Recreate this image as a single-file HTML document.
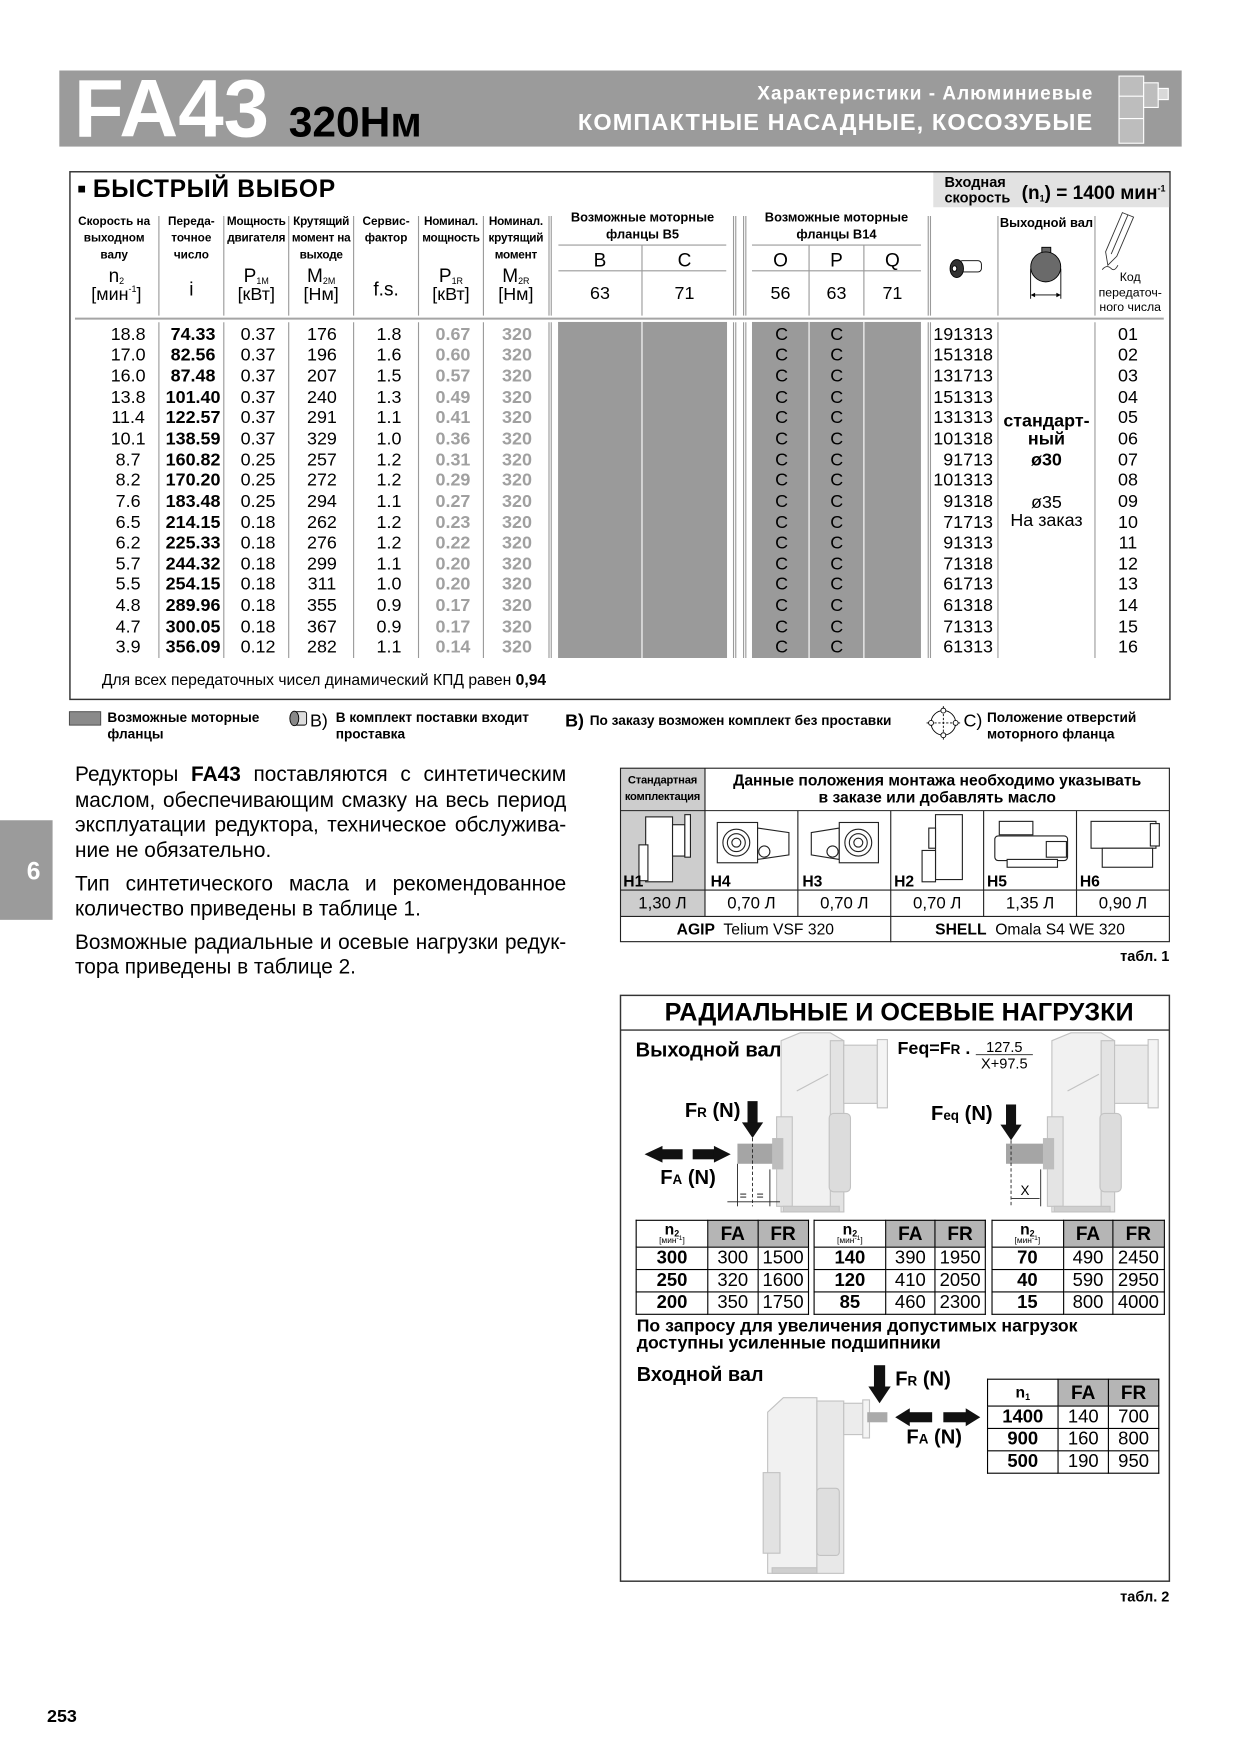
<!DOCTYPE html>
<html><head><meta charset="utf-8">
<style>
html,body{margin:0;padding:0;background:#fff;}
body{width:1241px;height:1754px;overflow:hidden;position:relative;}
#p{position:absolute;left:0;top:0;width:1109px;height:1568px;transform:scale(1.11903);transform-origin:0 0;font-family:"Liberation Sans",Arial,sans-serif;color:#000;}
.t{position:absolute;white-space:nowrap;line-height:1;}
.b{font-weight:bold;}
.c{text-align:center;}
.r{text-align:right;}
svg.bg{position:absolute;left:0;top:0;}
.col{position:absolute;text-align:center;font-size:16px;line-height:18.65px;top:290.6px;white-space:nowrap;}
.lab{position:absolute;text-align:center;font-size:10.5px;font-weight:bold;line-height:15px;top:190.5px;white-space:nowrap;}
.sy{position:absolute;text-align:center;white-space:nowrap;line-height:1;}
sub.s{font-size:8px;vertical-align:-2px;line-height:0;}
sup.s{font-size:8px;vertical-align:7px;line-height:0;}
.pl{position:absolute;left:67px;width:439px;font-size:18.6px;line-height:1;white-space:nowrap;text-align:justify;text-align-last:justify;}
.pl.e{text-align-last:left;}
.lt{position:absolute;border-collapse:collapse;table-layout:fixed;border:1.5px solid #000;}
.lt td{border:1px solid #000;padding:0;text-align:center;font-size:16.5px;height:19px;line-height:1;}
.lt tr.h td{height:23px;}
.lt td.g{background:#b5b5b5;font-weight:bold;font-size:17px;}
.lt td.bb{font-weight:bold;}
.lt .n{font-size:14px;font-weight:bold;line-height:13px;}
.lt .u{font-size:7.5px;line-height:8px;}
.lt .u sup{font-size:6px;vertical-align:3px;line-height:0;}
.lt .n sub{font-size:8px;vertical-align:-2px;line-height:0;}
.f{font-weight:bold;font-size:18px;}
.f small{font-size:12px;}
.lg{font-size:12.2px;line-height:15px;font-weight:bold;}
</style></head><body><div id="p">
<svg class="bg" width="1109" height="1568" viewBox="0 0 1109 1568">
<rect x="53" y="63" width="1003" height="68" fill="#9b9b9b"/>
<g stroke="#fff" stroke-width="1" fill="#bdbdbd">
<rect x="1000" y="68" width="22" height="60"/>
<rect x="1022" y="74" width="13" height="22"/>
<rect x="1035" y="79" width="9" height="10" fill="#d8d8d8"/>
<line x1="1000" y1="86" x2="1022" y2="86"/>
<line x1="1000" y1="106" x2="1022" y2="106"/>
</g>
<rect x="0" y="733" width="47" height="89" fill="#9b9b9b"/>
<rect x="62.5" y="153.5" width="983" height="471.5" fill="none" stroke="#333" stroke-width="1.3"/>
<rect x="834" y="154.2" width="210.8" height="31" fill="#e2e2e2"/>
<rect x="70" y="166" width="6" height="6" fill="#000"/>
<rect x="498.7" y="287.7" width="151" height="300.3" fill="#9a9a9a"/>
<rect x="672" y="287.7" width="151" height="300.3" fill="#9a9a9a"/>
<g stroke="#fff" stroke-width="1">
<line x1="573.7" y1="287.7" x2="573.7" y2="588"/>
<line x1="723" y1="287.7" x2="723" y2="588"/>
<line x1="772" y1="287.7" x2="772" y2="588"/>
</g>
<g stroke="#9a9a9a" stroke-width="1" fill="none">
<path d="M142 193V282M200 193V282M258 193V282M316 193V282M374 193V282M432 193V282M490.6 193V282M492.6 193V282M655.5 193V282M657.5 193V282M664.5 193V282M666.5 193V282M829.5 193V282M831.5 193V282M891.8 193V282M978.5 193V282"/>
<path d="M142 288V588M200 288V588M258 288V588M316 288V588M374 288V588M432 288V588M490.6 288V588M492.6 288V588M655.5 288V588M657.5 288V588M664.5 288V588M666.5 288V588M829.5 288V588M831.5 288V588M891.8 288V588M978.5 288V588"/>
<path d="M499 219H649M499 242H649M672 219H823M672 242H823M573.7 219V282M723 219V282M772 219V282"/>
</g>
<line x1="67" y1="284.7" x2="1040" y2="284.7" stroke="#a5a5a5" stroke-width="1.8"/>
<g stroke="#000" stroke-width="0.8">
<rect x="857" y="233" width="20" height="10" rx="3" fill="#fff"/>
<ellipse cx="855" cy="240" rx="6" ry="8" fill="#333"/>
<ellipse cx="853" cy="240" rx="2" ry="2.5" fill="#fff"/>
</g>
<rect x="931" y="221" width="8" height="5" fill="#666" stroke="#000" stroke-width="0.8"/>
<circle cx="934.5" cy="238.5" r="13.4" fill="#6a6a6a" stroke="#000" stroke-width="0.8"/>
<g stroke="#000" stroke-width="0.8">
<line x1="921" y1="240" x2="921" y2="267"/>
<line x1="948" y1="240" x2="948" y2="267"/>
<line x1="922" y1="263.6" x2="947" y2="263.6"/>
</g>
<polygon points="921,263.6 925,261.6 925,265.6" fill="#000"/>
<polygon points="948,263.6 944,261.6 944,265.6" fill="#000"/>
<g stroke="#333" stroke-width="0.8" fill="none">
<polygon points="1003,190 1013,194 998,229 990,237 988,225"/>
<line x1="1008" y1="192" x2="993" y2="227"/>
<path d="M985 241 q4 -5 8 -1 q3 3 6 -3"/>
</g>
<rect x="62" y="636" width="28" height="12" fill="#8a8a8a" stroke="#444" stroke-width="0.8"/>
<g stroke="#000" stroke-width="0.8">
<rect x="262" y="636" width="12" height="12" rx="2" fill="#ddd"/>
<ellipse cx="263" cy="642" rx="4" ry="6.5" fill="#888"/>
</g>
<g stroke="#000" stroke-width="0.8" fill="none">
<circle cx="843" cy="646" r="11"/>
<line x1="843" y1="631" x2="843" y2="661" stroke-dasharray="2,1.5"/>
<line x1="828" y1="646" x2="858" y2="646" stroke-dasharray="2,1.5"/>
<circle cx="843" cy="635" r="2.2" fill="#fff"/>
<circle cx="843" cy="657" r="2.2" fill="#fff"/>
<circle cx="832" cy="646" r="2.2" fill="#fff"/>
<circle cx="854" cy="646" r="2.2" fill="#fff"/>
</g>
<rect x="554.5" y="686.5" width="75.5" height="132.5" fill="#cdcdcd"/>
<g stroke="#222" stroke-width="1" fill="none">
<rect x="554.5" y="686.5" width="490.5" height="155"/>
<path d="M554.5 724.4H1045M554.5 795.4H1045M554.5 819H1045M630 686.5V819M713 724.4V819M796 724.4V842M879 724.4V819M962 724.4V819"/>
</g>
<g fill="#fff" stroke="#222" stroke-width="1">
<rect x="577" y="730" width="24" height="58"/>
<rect x="571" y="755" width="8" height="32"/>
<rect x="601" y="737" width="11" height="28"/>
<rect x="612" y="728" width="5" height="38"/>
<rect x="641" y="735" width="36" height="36"/>
<polygon points="677,740 705,744 705,764 677,768"/>
<circle cx="658" cy="753" r="12"/><circle cx="658" cy="753" r="8"/><circle cx="658" cy="753" r="4"/>
<circle cx="683" cy="761" r="5"/>
<polygon points="725,744 750,740 750,768 725,764"/>
<rect x="750" y="735" width="35" height="36"/>
<circle cx="767" cy="753" r="12"/><circle cx="767" cy="753" r="8"/><circle cx="767" cy="753" r="4"/>
<circle cx="744" cy="761" r="5"/>
<rect x="836" y="728" width="24" height="58"/>
<rect x="824" y="760" width="12" height="28"/>
<rect x="830" y="740" width="6" height="18"/>
<rect x="893" y="734" width="30" height="12"/>
<rect x="889" y="747" width="65" height="22" rx="3"/>
<rect x="900" y="768" width="45" height="7"/>
<rect x="935" y="752" width="18" height="14"/>
<rect x="975" y="734" width="58" height="24"/>
<rect x="985" y="758" width="45" height="17"/>
<rect x="1028" y="736" width="8" height="20"/>
</g>
<rect x="554.5" y="889.5" width="490.5" height="523.5" fill="none" stroke="#333" stroke-width="1.3"/>
<line x1="554.5" y1="920.5" x2="1045" y2="920.5" stroke="#333" stroke-width="1.3"/>
<g stroke="#c2c2c2" stroke-width="1">
<polygon points="698,930 715,923 742,923 754,930 754,1083 698,1083" fill="#f1f1f1"/>
<rect x="742" y="930" width="12" height="153" fill="#e3e3e3"/>
<rect x="754" y="934" width="30" height="52" fill="#e9e9e9"/>
<rect x="784" y="929" width="9" height="61" fill="#f4f4f4"/>
<rect x="694" y="998" width="14" height="80" fill="#e4e4e4"/>
<rect x="741" y="995" width="19" height="70" rx="4" fill="#dcdcdc"/>
<rect x="700" y="1078" width="50" height="5" fill="#cfcfcf"/>
<line x1="712" y1="975" x2="740" y2="960"/>
</g>
<rect x="659" y="1022" width="35" height="18" fill="#a5a5a5"/>
<rect x="690" y="1017" width="10" height="28" fill="#bdbdbd"/>
<g stroke="#c2c2c2" stroke-width="1">
<polygon points="940,930 957,923 984,923 996,930 996,1083 940,1083" fill="#f1f1f1"/>
<rect x="984" y="930" width="12" height="153" fill="#e3e3e3"/>
<rect x="996" y="934" width="30" height="52" fill="#e9e9e9"/>
<rect x="1026" y="929" width="9" height="61" fill="#f4f4f4"/>
<rect x="936" y="998" width="14" height="80" fill="#e4e4e4"/>
<rect x="983" y="995" width="19" height="70" rx="4" fill="#dcdcdc"/>
<rect x="942" y="1078" width="50" height="5" fill="#cfcfcf"/>
<line x1="954" y1="975" x2="982" y2="960"/>
</g>
<rect x="899" y="1022" width="37" height="18" fill="#a5a5a5"/>
<rect x="932" y="1017" width="10" height="28" fill="#bdbdbd"/>
<g fill="#111">
<rect x="668" y="984" width="9" height="20"/>
<polygon points="663,1003 682,1003 672.5,1017"/>
<rect x="590" y="1027" width="20" height="9"/>
<polygon points="576,1031.5 592,1024 592,1039"/>
<rect x="619" y="1027" width="21" height="9"/>
<polygon points="653,1031.5 638,1024 638,1039"/>
<rect x="899" y="987" width="9" height="19"/>
<polygon points="894,1005 913,1005 903.5,1019"/>
</g>
<g stroke="#222" stroke-width="0.8" fill="none">
<line x1="672.5" y1="1017" x2="672.5" y2="1078" stroke-dasharray="3,2"/>
<line x1="659" y1="1040" x2="659" y2="1078"/>
<line x1="688" y1="1045" x2="688" y2="1078"/>
<line x1="650" y1="1074" x2="697" y2="1074"/>
<line x1="903.5" y1="1019" x2="903.5" y2="1078" stroke-dasharray="3,2"/>
<line x1="930" y1="1045" x2="930" y2="1078"/>
<line x1="904" y1="1071" x2="929" y2="1071"/>
<line x1="872" y1="942.5" x2="923" y2="942.5"/>
</g>
<g stroke="#c2c2c2" stroke-width="1">
<polygon points="686,1262 700,1249 730,1249 730,1406 686,1406" fill="#f1f1f1"/>
<rect x="730" y="1252" width="24" height="154" fill="#e8e8e8"/>
<rect x="754" y="1254" width="19" height="28" fill="#ececec"/>
<rect x="771" y="1251" width="6" height="34" fill="#f4f4f4"/>
<rect x="682" y="1316" width="15" height="72" fill="#e2e2e2"/>
<rect x="730" y="1330" width="20" height="60" rx="3" fill="#dedede"/>
<rect x="690" y="1401" width="40" height="5" fill="#cfcfcf"/>
</g>
<rect x="775" y="1262" width="18" height="9" fill="#aaa"/>
<g fill="#111">
<rect x="781" y="1220" width="10" height="20"/>
<polygon points="776,1239 796,1239 786,1254"/>
<rect x="811" y="1262" width="22" height="9"/>
<polygon points="800,1266.5 813,1258.5 813,1274.5"/>
<rect x="843" y="1262" width="22" height="9"/>
<polygon points="876,1266.5 863,1258.5 863,1274.5"/>
</g>
</svg>

<div class="t b" style="left:66px;top:61px;font-size:73px;color:#fff;">FA43</div>
<div class="t b" style="left:258px;top:91px;font-size:38px;">320Нм</div>
<div class="t b r" style="left:560px;top:74.5px;width:417px;font-size:17px;color:#fff;letter-spacing:0.9px;">Характеристики - Алюминиевые</div>
<div class="t b r" style="left:460px;top:98.5px;width:517px;font-size:21px;color:#fff;letter-spacing:1px;">КОМПАКТНЫЕ НАСАДНЫЕ, КОСОЗУБЫЕ</div>

<div class="t b" style="left:83px;top:158px;font-size:22px;letter-spacing:0.6px;">БЫСТРЫЙ ВЫБОР</div>
<div class="t b" style="left:844px;top:155.5px;font-size:13px;">Входная</div>
<div class="t b" style="left:844px;top:169.5px;font-size:13px;">скорость</div>
<div class="t b" style="left:913px;top:163.5px;font-size:17px;">(n<sub class="s">1</sub>) = 1400 мин<sup class="s">-1</sup></div>

<div class="lab" style="left:62px;width:80px;">Скорость на<br>выходном<br>валу</div>
<div class="lab" style="left:142px;width:58px;">Переда-<br>точное<br>число</div>
<div class="lab" style="left:200px;width:58px;letter-spacing:-0.2px;">Мощность<br>двигателя</div>
<div class="lab" style="left:258px;width:58px;letter-spacing:-0.2px;">Крутящий<br>момент на<br>выходе</div>
<div class="lab" style="left:316px;width:58px;">Сервис-<br>фактор</div>
<div class="lab" style="left:374px;width:58px;letter-spacing:-0.2px;">Номинал.<br>мощность</div>
<div class="lab" style="left:432px;width:58px;letter-spacing:-0.2px;">Номинал.<br>крутящий<br>момент</div>
<div class="lab" style="left:498.7px;width:151px;font-size:11.5px;top:187.5px;">Возможные моторные<br>фланцы B5</div>
<div class="lab" style="left:672px;width:151px;font-size:11.5px;top:187.5px;">Возможные моторные<br>фланцы B14</div>
<div class="lab" style="left:891.8px;width:86.7px;font-size:11.5px;top:192.5px;">Выходной вал</div>
<div class="sy" style="left:978.5px;width:63px;top:242px;font-size:11px;line-height:13.5px;">Код<br>передаточ-<br>ного числа</div>

<div class="sy" style="left:62px;width:84px;top:238px;font-size:17px;">n<sub class="s">2</sub></div>
<div class="sy" style="left:62px;width:84px;top:256px;font-size:16px;">[мин<sup class="s">-1</sup>]</div>
<div class="sy" style="left:142px;width:58px;top:249.5px;font-size:17px;">i</div>
<div class="sy" style="left:200px;width:58px;top:238px;font-size:17px;">P<sub class="s">1M</sub></div>
<div class="sy" style="left:200px;width:58px;top:256px;font-size:16px;">[кВт]</div>
<div class="sy" style="left:258px;width:58px;top:238px;font-size:17px;">M<sub class="s">2M</sub></div>
<div class="sy" style="left:258px;width:58px;top:256px;font-size:16px;">[Нм]</div>
<div class="sy" style="left:316px;width:58px;top:249.5px;font-size:17px;">f.s.</div>
<div class="sy" style="left:374px;width:58px;top:238px;font-size:17px;">P<sub class="s">1R</sub></div>
<div class="sy" style="left:374px;width:58px;top:256px;font-size:16px;">[кВт]</div>
<div class="sy" style="left:432px;width:58px;top:238px;font-size:17px;">M<sub class="s">2R</sub></div>
<div class="sy" style="left:432px;width:58px;top:256px;font-size:16px;">[Нм]</div>
<div class="sy" style="left:498.7px;width:75px;top:223.5px;font-size:17px;">B</div>
<div class="sy" style="left:573.7px;width:76px;top:223.5px;font-size:17px;">C</div>
<div class="sy" style="left:672px;width:51px;top:223.5px;font-size:17px;">O</div>
<div class="sy" style="left:723px;width:49px;top:223.5px;font-size:17px;">P</div>
<div class="sy" style="left:772px;width:51px;top:223.5px;font-size:17px;">Q</div>
<div class="sy" style="left:498.7px;width:75px;top:255px;font-size:16px;">63</div>
<div class="sy" style="left:573.7px;width:76px;top:255px;font-size:16px;">71</div>
<div class="sy" style="left:672px;width:51px;top:255px;font-size:16px;">56</div>
<div class="sy" style="left:723px;width:49px;top:255px;font-size:16px;">63</div>
<div class="sy" style="left:772px;width:51px;top:255px;font-size:16px;">71</div>

<div class="col" style="left:87px;width:55px;">18.8<br>17.0<br>16.0<br>13.8<br>11.4<br>10.1<br>8.7<br>8.2<br>7.6<br>6.5<br>6.2<br>5.7<br>5.5<br>4.8<br>4.7<br>3.9</div>
<div class="col b" style="left:143.5px;width:58px;">74.33<br>82.56<br>87.48<br>101.40<br>122.57<br>138.59<br>160.82<br>170.20<br>183.48<br>214.15<br>225.33<br>244.32<br>254.15<br>289.96<br>300.05<br>356.09</div>
<div class="col" style="left:201.6px;width:58px;">0.37<br>0.37<br>0.37<br>0.37<br>0.37<br>0.37<br>0.25<br>0.25<br>0.25<br>0.18<br>0.18<br>0.18<br>0.18<br>0.18<br>0.18<br>0.12</div>
<div class="col" style="left:258.7px;width:58px;">176<br>196<br>207<br>240<br>291<br>329<br>257<br>272<br>294<br>262<br>276<br>299<br>311<br>355<br>367<br>282</div>
<div class="col" style="left:318.6px;width:58px;">1.8<br>1.6<br>1.5<br>1.3<br>1.1<br>1.0<br>1.2<br>1.2<br>1.1<br>1.2<br>1.2<br>1.1<br>1.0<br>0.9<br>0.9<br>1.1</div>
<div class="col b" style="left:375.8px;width:58px;color:#a0a0a0;">0.67<br>0.60<br>0.57<br>0.49<br>0.41<br>0.36<br>0.31<br>0.29<br>0.27<br>0.23<br>0.22<br>0.20<br>0.20<br>0.17<br>0.17<br>0.14</div>
<div class="col b" style="left:433px;width:58px;color:#a0a0a0;">320<br>320<br>320<br>320<br>320<br>320<br>320<br>320<br>320<br>320<br>320<br>320<br>320<br>320<br>320<br>320</div>
<div class="col" style="left:673px;width:51px;">C<br>C<br>C<br>C<br>C<br>C<br>C<br>C<br>C<br>C<br>C<br>C<br>C<br>C<br>C<br>C</div>
<div class="col" style="left:722.7px;width:50px;">C<br>C<br>C<br>C<br>C<br>C<br>C<br>C<br>C<br>C<br>C<br>C<br>C<br>C<br>C<br>C</div>
<div class="col" style="left:827px;width:60.4px;text-align:right;">191313<br>151318<br>131713<br>151313<br>131313<br>101318<br>91713<br>101313<br>91318<br>71713<br>91313<br>71318<br>61713<br>61318<br>71313<br>61313</div>
<div class="col" style="left:978px;width:60px;">01<br>02<br>03<br>04<br>05<br>06<br>07<br>08<br>09<br>10<br>11<br>12<br>13<br>14<br>15<br>16</div>
<div class="sy b" style="left:891.8px;width:86.7px;top:369px;font-size:16px;">стандарт-</div>
<div class="sy b" style="left:891.8px;width:86.7px;top:385px;font-size:16px;">ный</div>
<div class="sy b" style="left:891.8px;width:86.7px;top:404px;font-size:16px;">ø30</div>
<div class="sy" style="left:891.8px;width:86.7px;top:442px;font-size:16px;">ø35</div>
<div class="sy" style="left:891.8px;width:86.7px;top:458px;font-size:16px;">На заказ</div>
<div class="t" style="left:91px;top:600px;font-size:14px;">Для всех передаточных чисел динамический КПД равен <b>0,94</b></div>

<div class="t lg" style="left:96px;top:634px;">Возможные моторные<br>фланцы</div>
<div class="t" style="left:277px;top:637px;font-size:16px;">B)</div>
<div class="t lg" style="left:300px;top:634px;">В комплект поставки входит<br>проставка</div>
<div class="t b" style="left:505px;top:637px;font-size:16px;">B)</div>
<div class="t lg" style="left:527px;top:637px;">По заказу возможен комплект без проставки</div>
<div class="t" style="left:861px;top:637px;font-size:16px;">C)</div>
<div class="t lg" style="left:882px;top:634px;">Положение отверстий<br>моторного фланца</div>

<div class="t b c" style="left:10px;width:40px;top:768px;font-size:22px;color:#fff;">6</div>

<div class="pl" style="top:683px;">Редукторы <b>FA43</b> поставляются с синтетическим</div>
<div class="pl" style="top:706px;">маслом, обеспечивающим смазку на весь период</div>
<div class="pl" style="top:728px;">эксплуатации редуктора, техническое обслужива-</div>
<div class="pl e" style="top:751px;">ние не обязательно.</div>
<div class="pl" style="top:781px;">Тип синтетического масла и рекомендованное</div>
<div class="pl e" style="top:803px;">количество приведены в таблице 1.</div>
<div class="pl" style="top:833px;">Возможные радиальные и осевые нагрузки редук-</div>
<div class="pl e" style="top:855px;">тора приведены в таблице 2.</div>

<div class="sy b" style="left:554px;width:76px;top:689.5px;font-size:10px;line-height:15px;letter-spacing:-0.2px;">Стандартная<br>комплектация</div>
<div class="sy b" style="left:630px;width:415px;top:689.5px;font-size:14px;line-height:15px;">Данные положения монтажа необходимо указывать<br>в заказе или добавлять масло</div>
<div class="t b" style="left:557px;top:780px;font-size:14px;">H1</div>
<div class="t b" style="left:635px;top:780px;font-size:14px;">H4</div>
<div class="t b" style="left:717px;top:780px;font-size:14px;">H3</div>
<div class="t b" style="left:799px;top:780px;font-size:14px;">H2</div>
<div class="t b" style="left:882px;top:780px;font-size:14px;">H5</div>
<div class="t b" style="left:965px;top:780px;font-size:14px;">H6</div>
<div class="sy" style="left:554px;width:76px;top:799.5px;font-size:15px;">1,30 Л</div>
<div class="sy" style="left:630px;width:83px;top:799.5px;font-size:15px;">0,70 Л</div>
<div class="sy" style="left:713px;width:83px;top:799.5px;font-size:15px;">0,70 Л</div>
<div class="sy" style="left:796px;width:83px;top:799.5px;font-size:15px;">0,70 Л</div>
<div class="sy" style="left:879px;width:83px;top:799.5px;font-size:15px;">1,35 Л</div>
<div class="sy" style="left:962px;width:83px;top:799.5px;font-size:15px;">0,90 Л</div>
<div class="sy" style="left:554px;width:242px;top:823px;font-size:14px;"><b>AGIP</b>&nbsp; Telium VSF 320</div>
<div class="sy" style="left:796px;width:249px;top:823px;font-size:14px;"><b>SHELL</b>&nbsp; Omala S4 WE 320</div>
<div class="t b r" style="left:945px;width:100px;top:848px;font-size:13px;">табл. 1</div>

<div class="sy b" style="left:558px;width:491px;top:894px;font-size:22.5px;">РАДИАЛЬНЫЕ И ОСЕВЫЕ НАГРУЗКИ</div>
<div class="t b" style="left:568px;top:929px;font-size:18px;">Выходной вал</div>
<div class="t b" style="left:802px;top:930px;font-size:16px;">Feq=F<span style="font-size:12px">R</span> .</div>
<div class="sy" style="left:872px;width:51px;top:929px;font-size:13px;">127.5</div>
<div class="sy" style="left:870px;width:55px;top:944px;font-size:13px;">X+97.5</div>
<div class="t f" style="left:612px;top:983px;">F<small>R</small> (N)</div>
<div class="t f" style="left:590px;top:1043px;">F<small>A</small> (N)</div>
<div class="t f" style="left:832px;top:986px;">F<small>eq</small> (N)</div>
<div class="t" style="left:661px;top:1064px;font-size:11px;">=</div>
<div class="t" style="left:676px;top:1064px;font-size:11px;">=</div>
<div class="t" style="left:912px;top:1058px;font-size:12px;">X</div>

<table class="lt" style="left:568px;top:1089.5px;width:154px;">
<colgroup><col style="width:64px"><col style="width:44.6px"><col style="width:45.4px"></colgroup>
<tr class="h"><td><div class="n">n<sub>2</sub></div><div class="u">[мин<sup>-1</sup>]</div></td><td class="g">FA</td><td class="g">FR</td></tr>
<tr><td class="bb">300</td><td>300</td><td>1500</td></tr>
<tr><td class="bb">250</td><td>320</td><td>1600</td></tr>
<tr><td class="bb">200</td><td>350</td><td>1750</td></tr>
</table>
<table class="lt" style="left:727px;top:1089.5px;width:153px;">
<colgroup><col style="width:64px"><col style="width:44px"><col style="width:45px"></colgroup>
<tr class="h"><td><div class="n">n<sub>2</sub></div><div class="u">[мин<sup>-1</sup>]</div></td><td class="g">FA</td><td class="g">FR</td></tr>
<tr><td class="bb">140</td><td>390</td><td>1950</td></tr>
<tr><td class="bb">120</td><td>410</td><td>2050</td></tr>
<tr><td class="bb">85</td><td>460</td><td>2300</td></tr>
</table>
<table class="lt" style="left:885.6px;top:1089.5px;width:154px;">
<colgroup><col style="width:64px"><col style="width:44.4px"><col style="width:45.6px"></colgroup>
<tr class="h"><td><div class="n">n<sub>2</sub></div><div class="u">[мин<sup>-1</sup>]</div></td><td class="g">FA</td><td class="g">FR</td></tr>
<tr><td class="bb">70</td><td>490</td><td>2450</td></tr>
<tr><td class="bb">40</td><td>590</td><td>2950</td></tr>
<tr><td class="bb">15</td><td>800</td><td>4000</td></tr>
</table>

<div class="t b" style="left:569px;top:1178px;font-size:15.8px;line-height:15px;">По запросу для увеличения допустимых нагрузок<br>доступны усиленные подшипники</div>
<div class="t b" style="left:569px;top:1220px;font-size:17.8px;">Входной вал</div>
<div class="t f" style="left:800px;top:1223px;">F<small>R</small> (N)</div>
<div class="t f" style="left:810px;top:1275px;">F<small>A</small> (N)</div>

<table class="lt" style="left:882px;top:1231.6px;width:153px;">
<colgroup><col style="width:63px"><col style="width:45px"><col style="width:45px"></colgroup>
<tr class="h"><td><div class="n">n<sub>1</sub></div></td><td class="g">FA</td><td class="g">FR</td></tr>
<tr><td class="bb">1400</td><td>140</td><td>700</td></tr>
<tr><td class="bb">900</td><td>160</td><td>800</td></tr>
<tr><td class="bb">500</td><td>190</td><td>950</td></tr>
</table>

<div class="t b r" style="left:945px;width:100px;top:1420px;font-size:13px;">табл. 2</div>
<div class="t b" style="left:42px;top:1527px;font-size:16px;">253</div>
</div></body></html>
